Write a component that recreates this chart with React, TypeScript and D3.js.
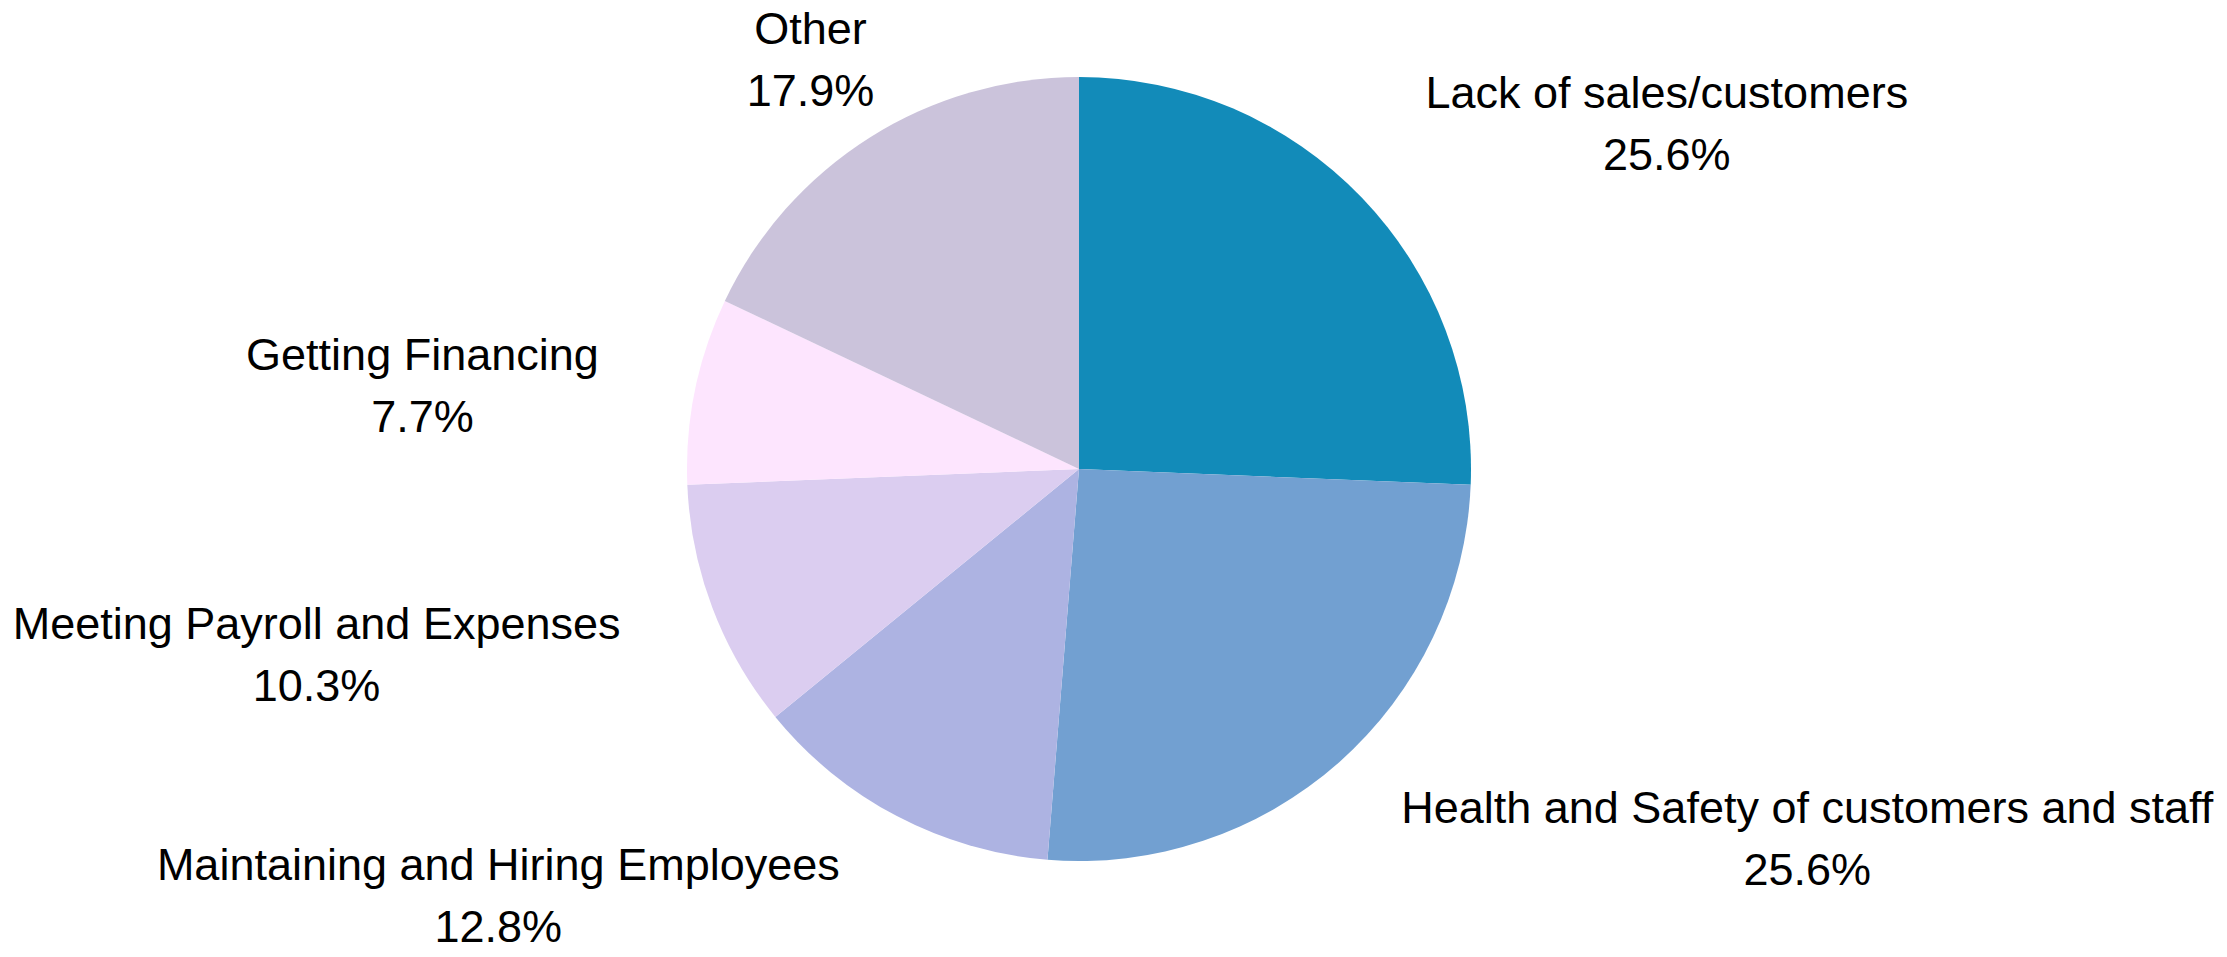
import React from "react";
import * as d3 from "d3";

const categories = [
  "Lack of sales/customers",
  "Health and Safety of customers and staff",
  "Maintaining and Hiring Employees",
  "Meeting Payroll and Expenses",
  "Getting Financing",
  "Other",
];
const counts = [10, 10, 5, 4, 3, 7];
const colors = ["#128bb9", "#72a0d1", "#adb3e2", "#dbcdf0", "#fde5fe", "#cbc3db"];

const W = 2227;
const H = 957;
const CX = 1079;
const CY = 469;
const RADIUS = 392;
const LABEL_R = 418;
const LABEL_GAP = 45;
const LABEL_R_SIDE = 485;
const LABEL_GAP_SIDE = 5;
const SIDE_DY = 13;
const FONT_SIZE = 45;
const FONT = "Liberation Sans, Arial, sans-serif";
const LINE_GAP = 62;
const ASC = 0.905 * FONT_SIZE;
const DESC = 0.212 * FONT_SIZE;

function measure(text: string): number {
  if (typeof document === "undefined") return text.length * FONT_SIZE * 0.5;
  const c = document.createElement("canvas");
  const ctx = c.getContext("2d");
  if (!ctx) return text.length * FONT_SIZE * 0.5;
  ctx.font = `${FONT_SIZE}px "Liberation Sans"`;
  return ctx.measureText(text).width;
}

function alignment(theta: number): [number, number] {
  const t = ((theta % 360) + 360) % 360;
  if (t <= 20 || t >= 340) return [1, 0];
  if (t < 55) return [1, -1];
  if (t < 125) return [0, -1];
  if (t < 160) return [-1, -1];
  if (t <= 205) return [-1, 0];
  if (t < 245) return [-1, 1];
  if (t <= 295) return [0, 1];
  return [1, 1];
}

export default function App() {
  const total = d3.sum(counts);
  const fmt = d3.format(".1f");
  const pie = d3
    .pie<number>()
    .sort(null)
    .value((d) => d);
  const arcs = pie(counts);
  const arcGen = d3
    .arc<d3.PieArcDatum<number>>()
    .innerRadius(0)
    .outerRadius(RADIUS);

  const labels = arcs.map((a, i) => {
    const mid = (a.startAngle + a.endAngle) / 2;
    const sx = Math.sin(mid);
    const sy = -Math.cos(mid);
    const theta = 90 - (mid * 180) / Math.PI;
    const [hx, vy] = alignment(theta);
    const side = vy === 0;
    const r = side ? LABEL_R_SIDE : LABEL_R;
    const gap = side ? LABEL_GAP_SIDE : LABEL_GAP;
    const ax = CX + r * sx + gap * Math.sign(sx);
    const ay = CY + r * sy + (side ? SIDE_DY : 0);
    const line1 = categories[i];
    const line2 = fmt((counts[i] / total) * 100) + "%";
    const w = Math.max(measure(line1), measure(line2));
    const h = ASC + LINE_GAP + DESC;
    let cx = ax + (hx * w) / 2;
    let cy = ay + (vy * h) / 2;
    cx = Math.min(Math.max(cx, w / 2), W - w / 2);
    cy = Math.min(Math.max(cy, h / 2), H - h / 2);
    const top = cy - h / 2;
    return { cx, b1: top + ASC, b2: top + ASC + LINE_GAP, line1, line2 };
  });

  return (
    <svg
      width={W}
      height={H}
      style={{ position: "absolute", left: 0, top: 0, background: "#ffffff" }}
    >
      <g transform={`translate(${CX},${CY})`}>
        {arcs.map((a, i) => (
          <path key={i} d={arcGen(a) || ""} fill={colors[i]} />
        ))}
      </g>
      <g fontFamily={FONT} fontSize={FONT_SIZE} fill="#000000" textAnchor="middle">
        {labels.map((l, i) => (
          <g key={i}>
            <text x={l.cx} y={l.b1}>{l.line1}</text>
            <text x={l.cx} y={l.b2}>{l.line2}</text>
          </g>
        ))}
      </g>
    </svg>
  );
}
